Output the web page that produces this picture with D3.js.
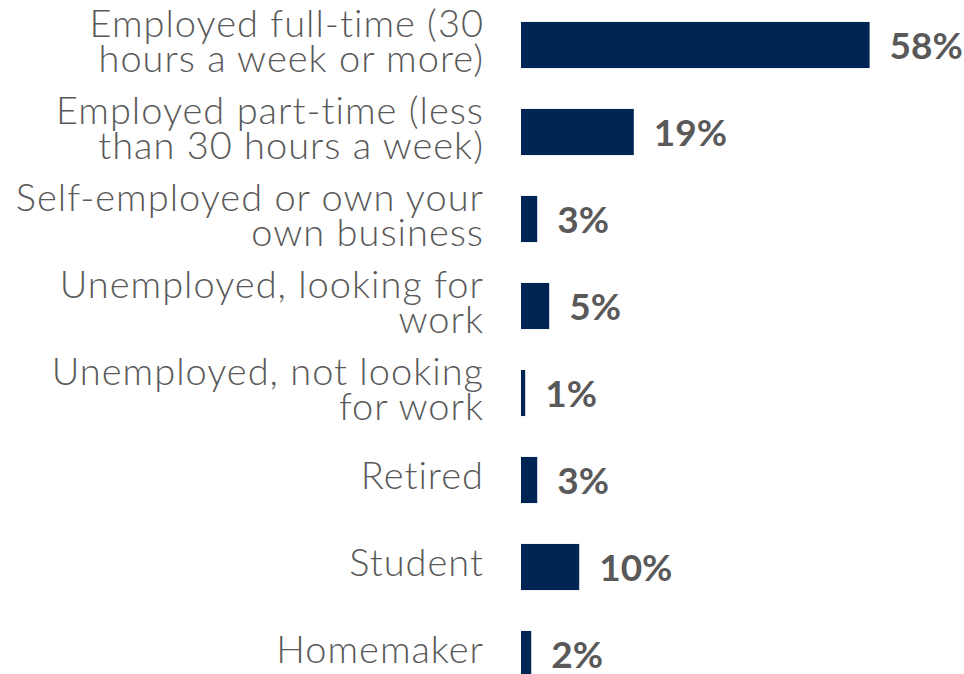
<!DOCTYPE html>
<html>
<head>
<meta charset="utf-8">
<script src="https://cdnjs.cloudflare.com/ajax/libs/d3/7.8.5/d3.min.js"></script>
<style>
  body { margin: 0; background: #fff; }
  svg { display: block; }
  .label { font-family: Lato, "Open Sans", sans-serif; font-weight: 300; fill: #595959; letter-spacing: 1px; }
  .value { font-family: Lato, "Open Sans", sans-serif; font-weight: bold; fill: #595959; }
</style>
</head>
<body>
<div class="chart"></div>
<script>
// categories, each split into the lines shown on the chart
var categories = [
    ["Employed full-time (30", "hours a week or more)"],
    ["Employed part-time (less", "than 30 hours a week)"],
    ["Self-employed or own your", "own business"],
    ["Unemployed, looking for", "work"],
    ["Unemployed, not looking", "for work"],
    ["Retired"],
    ["Student"],
    ["Homemaker"]
];

// share of respondents (%)
var values = [58.1, 18.8, 2.7, 4.7, 0.7, 2.7, 9.7, 1.7];

// value labels as printed
var valueLabels = ["58%", "19%", "3%", "5%", "1%", "3%", "10%", "2%"];

var svgWidth = 964;
var svgHeight = 674;

var svg = d3.select(".chart").append("svg")
    .attr("width", svgWidth)
    .attr("height", svgHeight);

var rows = d3.range(categories.length);

// bars start at x=521, about 6px per percent
var xScale = d3.scaleLinear()
    .domain([0, 100])
    .range([521, 521 + 600]);

var yScale = d3.scaleBand()
    .domain(rows)
    .range([1.5, 697.5])
    .paddingInner(0.47)
    .paddingOuter(0.235);

var barColor = "#002554";

// bars
svg.append("g")
    .selectAll("rect")
    .data(rows)
    .enter()
    .append("rect")
    .attr("x", xScale(0))
    .attr("y", i => yScale(i))
    .attr("width", i => xScale(values[i]) - xScale(0))
    .attr("height", yScale.bandwidth())
    .attr("fill", barColor);

// value labels
svg.append("g")
    .selectAll("text")
    .data(rows)
    .enter()
    .append("text")
    .attr("class", "value")
    .attr("x", i => xScale(values[i]) + 20)
    .attr("y", i => yScale(i) + yScale.bandwidth() / 2 + 14)
    .style("font-size", "37px")
    .text(i => valueLabels[i]);

// category labels, right aligned
var labelGroups = svg.append("g")
    .selectAll("text")
    .data(rows)
    .enter()
    .append("text")
    .attr("class", "label")
    .attr("text-anchor", "end")
    .style("font-size", "38px");

labelGroups.each(function(i) {
    var lines = categories[i];
    var mid = yScale(i) + yScale.bandwidth() / 2;
    var first = lines.length > 1 ? mid - 8 : mid + 9;
    d3.select(this).selectAll("tspan")
        .data(lines)
        .enter()
        .append("tspan")
        .attr("x", 484)
        .attr("y", (d, k) => first + k * 35)
        .text(d => d);
});
</script>
</body>
</html>
